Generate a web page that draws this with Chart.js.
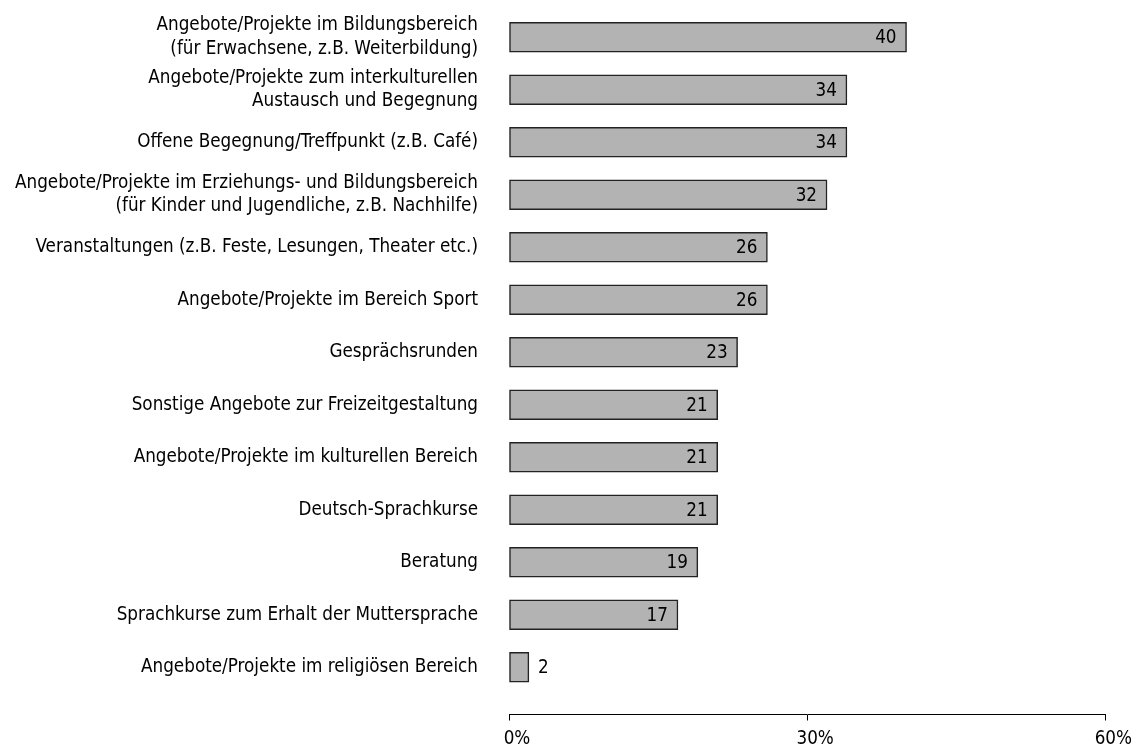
<!DOCTYPE html>
<html>
<head>
<meta charset="utf-8">
<script src="https://cdn.jsdelivr.net/npm/chart.js@4/dist/chart.umd.min.js"></script>
<style>
  html, body { margin: 0; padding: 0; background: #ffffff; }
  #wrap { width: 1141px; height: 749px; position: relative; }
</style>
</head>
<body>
<div id="wrap"><canvas id="c"></canvas></div>
<script>
const categories = [
  ["Angebote/Projekte im Bildungsbereich", "(für Erwachsene, z.B. Weiterbildung)"],
  ["Angebote/Projekte zum interkulturellen", "Austausch und Begegnung"],
  "Offene Begegnung/Treffpunkt (z.B. Café)",
  ["Angebote/Projekte im Erziehungs- und Bildungsbereich", "(für Kinder und Jugendliche, z.B. Nachhilfe)"],
  "Veranstaltungen (z.B. Feste, Lesungen, Theater etc.)",
  "Angebote/Projekte im Bereich Sport",
  "Gesprächsrunden",
  "Sonstige Angebote zur Freizeitgestaltung",
  "Angebote/Projekte im kulturellen Bereich",
  "Deutsch-Sprachkurse",
  "Beratung",
  "Sprachkurse zum Erhalt der Muttersprache",
  "Angebote/Projekte im religiösen Bereich"
];
const values = [40, 34, 34, 32, 26, 26, 23, 21, 21, 21, 19, 17, 2];
const xTickValues = [0, 30, 60];

const FONT = "'Liberation Sans Narrow', 'DejaVu Sans Condensed', 'Open Sans', sans-serif";

const valueLabels = {
  id: 'valueLabels',
  afterDatasetsDraw(chart) {
    const ctx = chart.ctx;
    const meta = chart.getDatasetMeta(0);
    ctx.save();
    ctx.font = '18.7px ' + FONT;
    ctx.fillStyle = '#000';
    ctx.textBaseline = 'middle';
    meta.data.forEach((bar, i) => {
      const v = values[i];
      if (v >= 5) {
        ctx.textAlign = 'right';
        ctx.fillText(String(v), bar.x - 10, bar.y + 1);
      } else {
        ctx.textAlign = 'left';
        ctx.fillText(String(v), bar.x + 9, bar.y + 1);
      }
    });
    ctx.restore();
  }
};

new Chart(document.getElementById('c'), {
  type: 'bar',
  data: {
    datasets: [{
      data: values.map((v, i) => ({ x: v, y: i })),
      backgroundColor: '#b3b3b3',
      borderColor: '#222222',
      borderWidth: 1.5,
      borderSkipped: false,
      barThickness: 30,
      clip: false
    }]
  },
  options: {
    indexAxis: 'y',
    responsive: true,
    maintainAspectRatio: false,
    animation: false,
    layout: { padding: { top: 11, right: 35, bottom: 1, left: 0 } },
    plugins: { legend: { display: false }, tooltip: { enabled: false } },
    scales: {
      x: {
        type: 'linear',
        position: 'bottom',
        min: 0,
        max: 60,
        bounds: 'data',
        offset: false,
        afterBuildTicks: (s) => { s.ticks = xTickValues.map(v => ({ value: v })); },
        afterFit: (s) => { s.height = 33.5; },
        ticks: {
          color: '#000',
          padding: 9,
          font: { family: FONT, size: 18.7, lineHeight: 1 },
          callback: (v) => '   ' + v + '%'
        },
        grid: { display: true, drawOnChartArea: false, drawTicks: true, tickLength: 6, color: '#000', lineWidth: 1 },
        border: { display: true, color: '#000', width: 1 }
      },
      y: {
        type: 'linear',
        reverse: true,
        min: -0.5,
        max: 12.9,
        bounds: 'data',
        offset: false,
        afterBuildTicks: (s) => { s.ticks = categories.map((c, i) => ({ value: i })); },
        afterFit: (s) => { s.width = 509; s.paddingTop = 0; s.paddingBottom = 0; },
        ticks: {
          autoSkip: false,
          color: '#000',
          padding: 23,
          font: { family: FONT, size: 18.7, lineHeight: 1.26 },
          callback: (v) => (Number.isInteger(v) && v >= 0 && v < categories.length) ? categories[v] : null
        },
        grid: { display: false },
        border: { display: false }
      }
    }
  },
  plugins: [valueLabels]
});
</script>
</body>
</html>
